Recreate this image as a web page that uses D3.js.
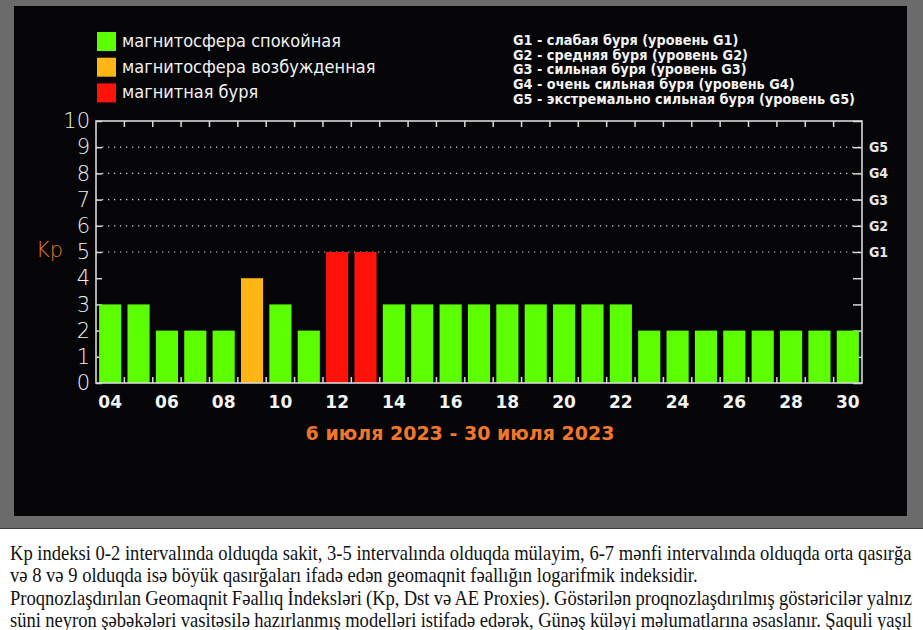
<!DOCTYPE html>
<html>
<head>
<meta charset="utf-8">
<script src="https://cdn.jsdelivr.net/npm/d3@7"></script>
<style>
  body { margin: 0; background: #fff; }
  svg { display: block; }
</style>
</head>
<body>
<svg id="chart" width="923" height="630"></svg>
<script>
// Kp forecast, one bar per day of July 2023
const days = ['04', '05', '06', '07', '08', '09', '10', '11', '12', '13', '14', '15', '16', '17',
  '18', '19', '20', '21', '22', '23', '24', '25', '26', '27', '28', '29', '30']
const kpValues = [3, 3, 2, 2, 2, 4, 3, 2, 5, 5, 3, 3, 3, 3, 3, 3, 3, 3, 3, 2, 2, 2, 2, 2, 2, 2, 2]
const kpTicks = d3.range(0, 11)
const stormLevels = ['G1', 'G2', 'G3', 'G4', 'G5']          // at Kp 5..9
const stateLabels = ['магнитосфера спокойная', 'магнитосфера возбужденная', 'магнитная буря']
const stormLabels = [
  'G1 - слабая буря (уровень G1)',
  'G2 - средняя буря (уровень G2)',
  'G3 - сильная буря (уровень G3)',
  'G4 - очень сильная буря (уровень G4)',
  'G5 - экстремально сильная буря (уровень G5)'
]
const periodLabel = '6 июля 2023 - 30 июля 2023'
const noteLines = [
  'Kp indeksi 0-2 intervalında olduqda sakit, 3-5 intervalında olduqda mülayim, 6-7 mənfi intervalında olduqda orta qasırğa',
  'və 8 və 9 olduqda isə böyük qasırğaları ifadə edən geomaqnit fəallığın logarifmik indeksidir.',
  'Proqnozlaşdırılan Geomaqnit Fəallıq İndeksləri (Kp, Dst və AE Proxies). Göstərilən proqnozlaşdırılmış göstəricilər yalnız',
  'süni neyron şəbəkələri vasitəsilə hazırlanmış modelləri istifadə edərək, Günəş küləyi məlumatlarına əsaslanır. Şaquli yaşıl'
]

const stateColors = ['#5cff00', '#ffb514', '#ff1309']
const stateOf = kp => kp >= 5 ? 2 : (kp >= 4 ? 1 : 0)

const svg = d3.select('#chart')
const frameColor = '#d8d8d8'
const sans = '"DejaVu Sans Condensed", "DejaVu Sans", sans-serif'

// background panels
svg.append('rect').attr('width', 923).attr('height', 528).attr('fill', '#6b6b6b')
svg.append('line').attr('x1', 0).attr('x2', 923).attr('y1', 528.5).attr('y2', 528.5)
  .attr('stroke', '#3c3c3c')
svg.append('rect').attr('x', 14).attr('y', 6).attr('width', 893).attr('height', 510).attr('fill', '#050508')

const plot = { left: 96, right: 862, top: 121, bottom: 383 }

const x = d3.scaleBand().domain(days).range([plot.left, plot.right])
  .paddingInner(0.22).paddingOuter(0.11)
const y = d3.scaleLinear().domain([0, 10]).range([plot.bottom, plot.top])

// dotted storm level lines
svg.append('g')
  .selectAll('line')
  .data(d3.range(5, 5 + stormLevels.length))
  .join('line')
  .attr('x1', plot.left).attr('x2', plot.right)
  .attr('y1', d => y(d)).attr('y2', d => y(d))
  .attr('stroke', '#cfcfcf')
  .attr('stroke-width', 1.2)
  .attr('stroke-dasharray', '1.3,4.7')

// left axis
const yAxisLeft = svg.append('g')
  .attr('transform', `translate(${plot.left},0)`)
  .call(d3.axisLeft(y).tickValues(kpTicks).tickSize(-6).tickPadding(6))
yAxisLeft.select('.domain').remove()
yAxisLeft.selectAll('line').attr('stroke', frameColor).attr('stroke-width', 1.5)
yAxisLeft.selectAll('text')
  .attr('fill', '#f0f0f0')
  .style('font', '200 21px "DejaVu Sans", sans-serif')

// right axis with storm levels
const yAxisRight = svg.append('g')
  .attr('transform', `translate(${plot.right},0)`)
  .call(d3.axisRight(y).tickValues(kpTicks).tickSize(-9).tickPadding(7)
    .tickFormat(d => stormLevels[d - 5] || ''))
yAxisRight.select('.domain').remove()
yAxisRight.selectAll('line').attr('stroke', frameColor).attr('stroke-width', 1.5)
yAxisRight.selectAll('text')
  .attr('fill', '#e6e6e6')
  .style('font', `bold 14px ${sans}`)

// small ticks between the days, top and bottom
const gap = (x.step() - x.bandwidth()) / 2
const bounds = days.slice(1).map(d => x(d) - gap)
svg.append('g')
  .selectAll('line')
  .data(bounds.flatMap(b => [[b, plot.top, plot.top + 6], [b, plot.bottom, plot.bottom - 6]]))
  .join('line')
  .attr('x1', d => d[0]).attr('x2', d => d[0])
  .attr('y1', d => d[1]).attr('y2', d => d[2])
  .attr('stroke', frameColor)
  .attr('stroke-width', 1.5)

// bars
svg.append('g')
  .selectAll('rect')
  .data(kpValues)
  .join('rect')
  .attr('x', (d, i) => x(days[i]))
  .attr('width', x.bandwidth())
  .attr('y', d => y(d))
  .attr('height', d => y(0) - y(d))
  .attr('fill', d => stateColors[stateOf(d)])

// frame
svg.append('rect')
  .attr('x', plot.left).attr('y', plot.top)
  .attr('width', plot.right - plot.left).attr('height', plot.bottom - plot.top)
  .attr('fill', 'none')
  .attr('stroke', frameColor)
  .attr('stroke-width', 1.6)

// day labels (every second day)
const xAxis = svg.append('g')
  .attr('transform', `translate(0,${plot.bottom})`)
  .call(d3.axisBottom(x).tickValues(days.filter((d, i) => i % 2 === 0)).tickSize(0).tickPadding(13))
xAxis.select('.domain').remove()
xAxis.selectAll('text')
  .attr('fill', '#f4f4f4')
  .style('font', 'bold 17px "DejaVu Sans", sans-serif')

// Kp title and period
svg.append('text')
  .attr('x', 36).attr('y', 257)
  .attr('fill', '#e87a2c')
  .style('font', '300 21px "DejaVu Sans", sans-serif')
  .text('Kp')

svg.append('text')
  .attr('x', (plot.left + plot.right) / 2 - 19).attr('y', 440)
  .attr('text-anchor', 'middle')
  .attr('fill', '#f0772a')
  .style('font', 'bold 19px "DejaVu Sans", sans-serif')
  .text(periodLabel)

// colour legend
const legend = svg.append('g').attr('transform', 'translate(97,32)')
const legendItem = legend.selectAll('g')
  .data(stateLabels)
  .join('g')
  .attr('transform', (d, i) => `translate(0,${i * 25.7})`)
legendItem.append('rect')
  .attr('width', 19).attr('height', 19)
  .attr('fill', (d, i) => stateColors[i])
legendItem.append('text')
  .attr('x', 25).attr('y', 15)
  .attr('fill', '#f2f2f2')
  .style('font', `18px ${sans}`)
  .text(d => d)

// storm level legend
svg.append('g')
  .selectAll('text')
  .data(stormLabels)
  .join('text')
  .attr('x', 513)
  .attr('y', (d, i) => 45 + i * 14.7)
  .attr('fill', '#f2f2f2')
  .style('font', `bold 14.3px ${sans}`)
  .text(d => d)

// note under the chart: squeezed horizontally, justified with word spacing,
// a line that ends a paragraph keeps its natural width
const notes = svg.append('g')
  .selectAll('text')
  .data(noteLines)
  .join('text')
  .attr('x', 0)
  .attr('y', 0)
  .attr('fill', '#111')
  .style('font', '21px "Liberation Serif", "Times New Roman", serif')
  .text(d => d)
const fullWidth = 902
const squeeze = fullWidth / notes.nodes()[0].getComputedTextLength()
notes.each(function (d, i) {
  const sel = d3.select(this)
  sel.attr('transform', `translate(10,${560 + i * 22.4}) scale(${squeeze},1)`)
  if (i > 0 && !d.endsWith('.')) {
    const spaces = d.split(' ').length - 1
    const extra = (fullWidth / squeeze - this.getComputedTextLength()) / spaces
    sel.attr('word-spacing', extra)
  }
})
</script>
</body>
</html>
